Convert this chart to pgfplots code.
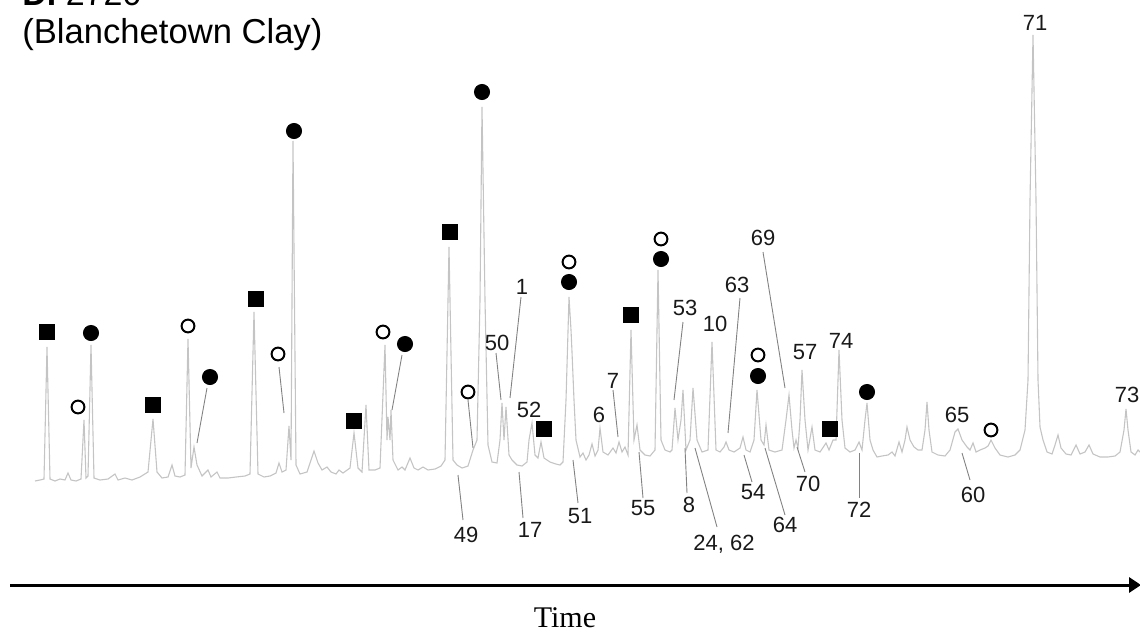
\documentclass[border=0pt]{standalone}
\usepackage{pgfplots}
\pgfplotsset{compat=1.18}
\usepackage{fontspec}
\setmainfont{Liberation Sans}
\newfontfamily\timesfont{Liberation Serif}
\usetikzlibrary{arrows.meta}
\definecolor{tracegray}{RGB}{196,196,196}
\definecolor{leadgray}{RGB}{130,130,130}
\begin{document}
\begin{tikzpicture}
\begin{axis}[
  scale only axis, width=570pt, height=316pt,
  xmin=0, xmax=1140, ymin=0, ymax=632, y dir=reverse,
  hide axis, clip=false,
]
% chromatogram trace (pixel coordinates, y downward)
\addplot[color=tracegray, line width=0.55pt, mark=none] coordinates {
(35,481) (40,480) (44,479) (47,347) (50,479) (55,481) (60,479) (65,480) (68,473) (71,480) (76,481) (81,479) (84,420) (86,478) (88,476) (91,345) (94,478) (100,480) (108,479) (115,474) (118,480) (125,478) (132,480) (140,477) (148,472) (153,419) (157,472) (162,478) (168,477) (172,465) (175,476) (180,477) (185,475) (188,339) (191,468) (194,447) (197,465) (202,476) (208,470) (211,477) (217,472) (220,478) (228,478) (236,477) (245,476) (250,474) (254,312) (258,474) (264,477) (270,476) (276,473) (279,463) (282,472) (286,470) (289,426) (291,460) (293,141) (296,465) (300,474) (307,472) (314,451) (318,463) (322,470) (327,467) (331,472) (336,474) (339,470) (343,473) (350,468) (354,433) (358,468) (362,472) (366,405) (369,470) (375,470) (380,468) (385,345) (387,440) (388,417) (390,440) (391,410) (393,460) (398,470) (402,467) (405,470) (410,458) (414,468) (418,470) (423,467) (428,470) (435,469) (441,466) (445,460) (449,247) (453,460) (457,465) (462,468) (468,466) (473,450) (477,440) (480,300) (482,107) (485,300) (488,445) (492,462) (497,463) (500,440) (502,403) (504,440) (506,407) (509,455) (512,460) (517,465) (522,466) (527,462) (529,440) (532,423) (535,455) (538,458) (541,442) (544,458) (550,462) (556,464) (560,465) (563,462) (566,400) (569,297) (571,330) (572,352) (574,400) (576,440) (580,457) (583,453) (586,460) (589,455) (592,444) (595,456) (598,450) (600,428) (603,452) (608,455) (613,448) (616,453) (619,442) (622,452) (625,447) (628,455) (631,330) (634,440) (637,425) (640,450) (645,455) (650,456) (655,450) (658,270) (661,440) (665,450) (670,452) (672,450) (675,408) (678,440) (681,420) (683,390) (686,450) (690,440) (693,388) (697,440) (702,452) (708,450) (712,342) (716,450) (720,452) (724,447) (726,442) (729,450) (734,452) (740,448) (743,437) (746,450) (750,452) (754,440) (757,390) (761,440) (764,445) (766,425) (769,450) (775,452) (782,450) (786,420) (789,395) (792,430) (794,448) (796,440) (798,448) (800,420) (802,370) (805,420) (808,450) (812,427) (815,450) (820,452) (826,443) (829,450) (833,440) (836,440) (839,350) (842,420) (845,448) (850,452) (855,450) (859,442) (862,450) (865,420) (867,403) (870,440) (873,450) (877,457) (882,456) (888,455) (892,452) (895,456) (899,442) (902,452) (905,440) (907,427) (910,440) (914,447) (918,450) (922,450) (925,430) (927,402) (929,430) (932,452) (938,455) (945,456) (950,450) (955,432) (958,429) (962,440) (967,447) (970,450) (973,443) (976,452) (980,450) (985,448) (988,446) (991,440) (995,448) (1000,455) (1008,457) (1015,455) (1020,450) (1025,430) (1028,380) (1030,200) (1033,35) (1036,200) (1038,380) (1040,427) (1043,440) (1047,452) (1052,454) (1055,445) (1058,435) (1061,448) (1066,454) (1071,455) (1076,445) (1080,454) (1085,452) (1089,445) (1093,454) (1100,457) (1108,457) (1115,456) (1120,452) (1124,430) (1126,409) (1128,430) (1131,452) (1135,455) (1138,450) (1140,452)
};
% markers
\addplot[only marks, mark=square*, mark size=3.7pt, black] coordinates {
(47,332) (153,405) (256,299) (354,421) (450,232) (544,429) (631,315) (830,429)
};
\addplot[only marks, mark=*, mark size=3.8pt, black] coordinates {
(91,333) (210,377) (294,131) (405,344) (482,92) (569,282) (661,259) (758,376) (867,392)
};
\addplot[only marks, mark=o, mark size=3.2pt, black, mark options={line width=1pt, fill=white}] coordinates {
(78,407) (188,326) (278,354) (383,332) (468,392) (569,262) (661,239) (758,355) (991,430)
};
% leader lines
\begin{scope}[leadgray, line width=0.45pt]
\draw (axis cs:207,388) -- (axis cs:197,443);
\draw (axis cs:279,367) -- (axis cs:284,413);
\draw (axis cs:402,355) -- (axis cs:392,410);
\draw (axis cs:468,400) -- (axis cs:473,448);
\draw (axis cs:496,353) -- (axis cs:501,400);
\draw (axis cs:521,297) -- (axis cs:510,398);
\draw (axis cs:613,390) -- (axis cs:618,437);
\draw (axis cs:683,322) -- (axis cs:674,400);
\draw (axis cs:740,298) -- (axis cs:728,433);
\draw (axis cs:763,252) -- (axis cs:785,388);
\draw (axis cs:744,455) -- (axis cs:752,482);
\draw (axis cs:685,448) -- (axis cs:687,493);
\draw (axis cs:639,452) -- (axis cs:643,498);
\draw (axis cs:573,460) -- (axis cs:578,503);
\draw (axis cs:458,475) -- (axis cs:463,520);
\draw (axis cs:519,472) -- (axis cs:523,518);
\draw (axis cs:695,448) -- (axis cs:717,527);
\draw (axis cs:765,448) -- (axis cs:785,515);
\draw (axis cs:797,447) -- (axis cs:805,472);
\draw (axis cs:859,453) -- (axis cs:859,498);
\draw (axis cs:962,453) -- (axis cs:970,480);
\end{scope}
% peak labels
\begin{scope}[every node/.style={inner sep=0pt, font=\fontsize{11}{13}\selectfont, text=black!90}]
\node at (axis cs:1035,23) {71};
\node at (axis cs:1127,395) {73};
\node at (axis cs:841,341) {74};
\node at (axis cs:805,352) {57};
\node at (axis cs:763,238) {69};
\node at (axis cs:737,285) {63};
\node at (axis cs:715,324) {10};
\node at (axis cs:685,308) {53};
\node at (axis cs:613,381) {7};
\node at (axis cs:599,415) {6};
\node at (axis cs:529,410) {52};
\node at (axis cs:497,343) {50};
\node at (axis cs:522,287) {1};
\node at (axis cs:957,415) {65};
\node at (axis cs:466,535) {49};
\node at (axis cs:530,530) {17};
\node at (axis cs:580,516) {51};
\node at (axis cs:643,508) {55};
\node at (axis cs:689,505) {8};
\node[anchor=base] at (axis cs:724,550) {24, 62};
\node at (axis cs:753,492) {54};
\node at (axis cs:785,525) {64};
\node at (axis cs:808,484) {70};
\node at (axis cs:859,510) {72};
\node at (axis cs:973,495) {60};
\end{scope}
% title
\node[anchor=base west, inner sep=0pt, font=\fontsize{17}{20}\selectfont] at (axis cs:22,5) {\textbf{D.} 2720};
\node[anchor=base west, inner sep=0pt, font=\fontsize{17.3}{20}\selectfont] at (axis cs:22,43) {(Blanchetown Clay)};
% time arrow
\draw[black, line width=1.5pt, -{Triangle[length=6pt, width=7.5pt]}] (axis cs:10,585) -- (axis cs:1141,585);
\node[anchor=base, inner sep=0pt, font=\timesfont\fontsize{15}{18}\selectfont] at (axis cs:565,627) {Time};
\end{axis}
\pgfresetboundingbox
\useasboundingbox (0,0) rectangle (570pt,316pt);
\end{tikzpicture}
\end{document}
